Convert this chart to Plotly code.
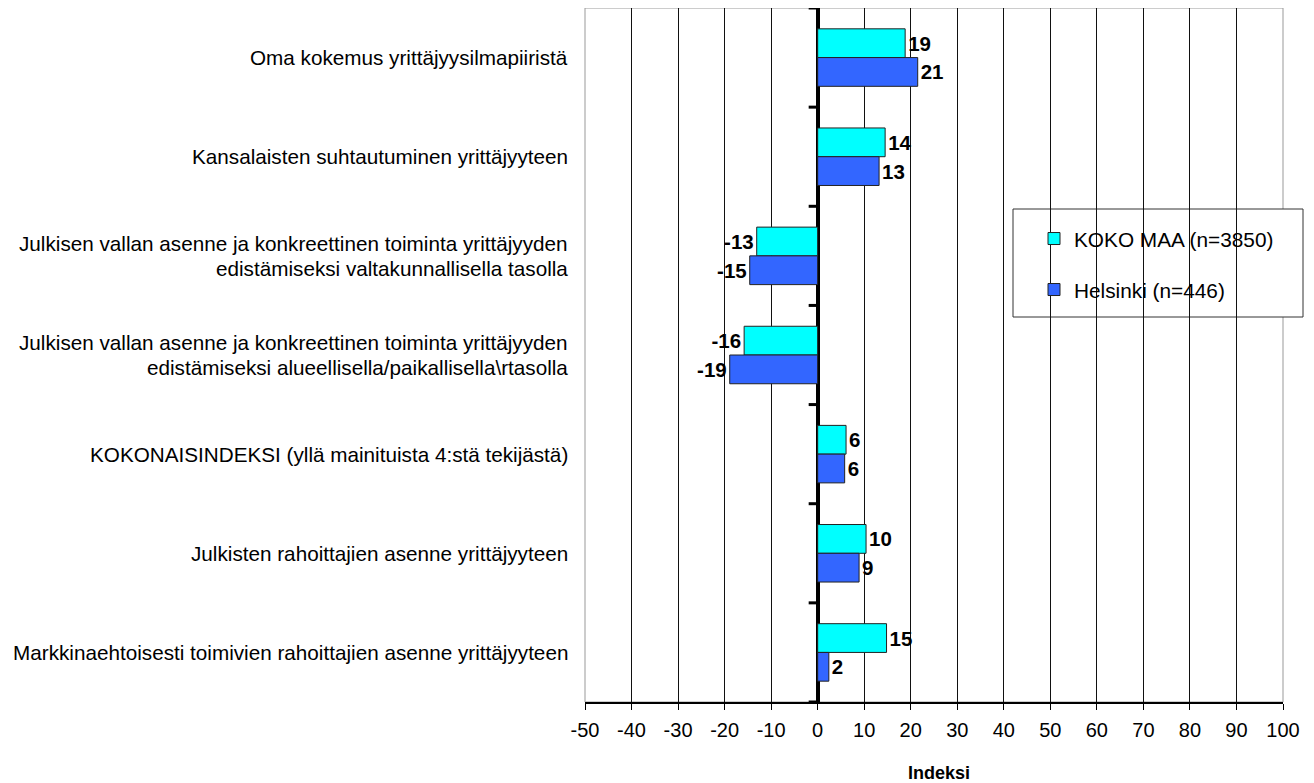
import plotly.graph_objects as go

categories = [
    "Oma kokemus yrittäjyysilmapiiristä",
    "Kansalaisten suhtautuminen yrittäjyyteen",
    "Julkisen vallan asenne ja konkreettinen toiminta yrittäjyyden<br>edistämiseksi valtakunnallisella tasolla",
    "Julkisen vallan asenne ja konkreettinen toiminta yrittäjyyden<br>edistämiseksi alueellisella/paikallisella\\rtasolla",
    "KOKONAISINDEKSI (yllä mainituista 4:stä tekijästä)",
    "Julkisten rahoittajien asenne yrittäjyyteen",
    "Markkinaehtoisesti toimivien rahoittajien asenne yrittäjyyteen",
]
series_names = ["KOKO MAA (n=3850)", "Helsinki (n=446)"]
koko_maa = [18.8, 14.5, -13.1, -15.8, 6.1, 10.4, 14.8]
helsinki = [21.5, 13.2, -14.6, -18.9, 5.8, 8.9, 2.4]
koko_labels = [19, 14, -13, -16, 6, 10, 15]
helsinki_labels = [21, 13, -15, -19, 6, 9, 2]
x_ticks = list(range(-50, 101, 10))

FONT = "Liberation Sans, Arial, sans-serif"
ypos = list(range(len(categories)))

# screen geometry of the reference (page has 8px body margin)
OFF = 8
W, H = 1314 - OFF, 783 - OFF
PL, PR, PT, PB = 585, 1283, 8, 702
PW, PH = PR - PL, PB - PT


def px(sx):
    return (sx - PL) / PW


def py(sy):
    return (PB - sy) / PH


fig = go.Figure()
fig.add_trace(go.Bar(
    y=ypos, x=koko_maa, orientation="h", name=series_names[0],
    marker=dict(color="#00FFFF", line=dict(color="#222222", width=1)),
    text=[str(v) for v in koko_labels], textposition="outside",
    textfont=dict(family=FONT, size=20.5, color="black", weight="bold"),
    cliponaxis=False, legend="legend", showlegend=True,
))
fig.add_trace(go.Bar(
    y=ypos, x=helsinki, orientation="h", name=series_names[1],
    marker=dict(color="#3366FF", line=dict(color="#222222", width=1)),
    text=[str(v) for v in helsinki_labels], textposition="outside",
    textfont=dict(family=FONT, size=20.5, color="black", weight="bold"),
    cliponaxis=False, legend="legend2", showlegend=True,
))

shapes = []
shapes.append(dict(type="rect", xref="paper", yref="paper", x0=0, x1=1, y0=0, y1=1,
                   line=dict(color="#999999", width=1), layer="below"))
for i in range(len(categories) + 1):
    b = i - 0.5
    shapes.append(dict(type="line", xref="x", yref="y", xsizemode="pixel", xanchor=0,
                       x0=-9, x1=0, y0=b, y1=b, line=dict(color="black", width=3)))
shapes.append(dict(type="rect", xref="paper", yref="paper",
                   x0=px(1013), x1=px(1303), y0=py(317), y1=py(209),
                   line=dict(color="#333333", width=1), fillcolor="white", layer="below"))

annotations = []
for i, cat in enumerate(categories):
    lines = cat.split("<br>")
    n = len(lines)
    for j, ln in enumerate(lines):
        shift = (n - 1) / 2 * 25 - j * 25
        annotations.append(dict(
            text=ln, xref="paper", yref="y", x=0, y=i, xanchor="right", yanchor="middle",
            xshift=-15, yshift=shift, showarrow=False, align="center",
            font=dict(family=FONT, size=20.7, color="black"),
        ))
annotations.append(dict(
    text="<b>Indeksi</b>", xref="paper", yref="paper", x=px(939), y=py(773),
    xanchor="center", yanchor="middle", showarrow=False,
    font=dict(family=FONT, size=18, color="black"),
))

fig.update_layout(
    width=W, height=H,
    margin=dict(l=PL - OFF, r=W - (PR - OFF), t=PT - OFF, b=H - (PB - OFF)),
    paper_bgcolor="white", plot_bgcolor="white",
    barmode="group", bargap=0.42, bargroupgap=0,
    showlegend=True,
    font=dict(family=FONT, size=20, color="black"),
    xaxis=dict(range=[-50, 100], tickvals=x_ticks, ticktext=[str(t) for t in x_ticks],
               showgrid=True, gridcolor="#111111", gridwidth=1,
               zeroline=True, zerolinecolor="black", zerolinewidth=4,
               showline=True, linecolor="black", linewidth=1.5,
               ticks="outside", ticklen=6, tickcolor="black",
               ticklabelstandoff=3,
               tickfont=dict(family=FONT, size=20, color="black")),
    yaxis=dict(range=[len(categories) - 0.5, -0.5], showticklabels=False, showgrid=False,
               zeroline=False, ticks=""),
    legend=dict(x=px(1034), y=py(239), xanchor="left", yanchor="middle",
                bgcolor="rgba(0,0,0,0)", borderwidth=0,
                font=dict(family=FONT, size=20.8, color="black")),
    legend2=dict(x=px(1034), y=py(290), xanchor="left", yanchor="middle",
                 bgcolor="rgba(0,0,0,0)", borderwidth=0,
                 font=dict(family=FONT, size=20.8, color="black")),
    shapes=shapes,
    annotations=annotations,
)

fig.write_html("out.html")
